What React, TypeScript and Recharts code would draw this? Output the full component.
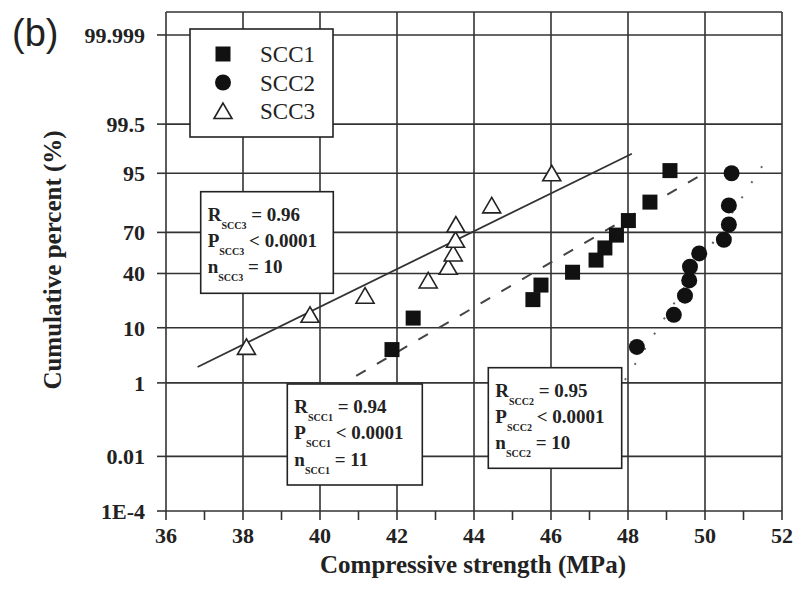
import React from 'react';
import { ScatterChart, Scatter, XAxis, YAxis, ReferenceLine } from 'recharts';

// compressive strength (MPa) and cumulative percent (%)
const scc1Strength = [41.87, 42.42, 45.53, 45.74, 46.56, 47.17, 47.4, 47.7, 48.01, 48.57, 49.09];
const scc1Percent = [4.5, 13.6, 22.7, 31.8, 40.9, 50, 59.1, 68.2, 77.3, 86.4, 95.5];
const scc2Strength = [48.23, 49.19, 49.48, 49.59, 49.61, 49.85, 50.49, 50.62, 50.62, 50.69];
const scc2Percent = [5, 15, 25, 35, 45, 55, 65, 75, 85, 95];
const scc3Strength = [38.09, 39.74, 41.17, 42.81, 43.33, 43.46, 43.52, 43.53, 44.46, 46.02];
const scc3Percent = [5, 15, 25, 35, 45, 55, 65, 75, 85, 95];

// fitted lines (end points)
const fit1Strength = [40.94, 50.0];
const fit1Percent = [1.41, 95.1];
const fit2Strength = [47.92, 51.6];
const fit2Percent = [1.16, 97.2];
const fit3Strength = [36.82, 48.1];
const fit3Percent = [2.14, 97.8];

const xTicks = [36, 37, 38, 39, 40, 41, 42, 43, 44, 45, 46, 47, 48, 49, 50, 51, 52];
const xGrid = [38, 40, 42, 44, 46, 48, 50, 52];
const yTickPercents = [0.0001, 0.01, 1, 10, 40, 70, 95, 99.5, 99.999];
const yTickLabels = ['1E-4', '0.01', '1', '10', '40', '70', '95', '99.5', '99.999'];

// inverse standard normal CDF (Acklam) -> probability paper scale
const probit = (p: number) => {
  const a = [-39.69683028665376, 220.9460984245205, -275.9285104469687, 138.357751867269, -30.66479806614716, 2.506628277459239];
  const b = [-54.47609879822406, 161.5858368580409, -155.6989798598866, 66.80131188771972, -13.28068155288572];
  const c = [-0.007784894002430293, -0.3223964580411365, -2.400758277161838, -2.549671348283429, 4.374664141464968, 2.938163982698783];
  const d = [0.007784695709041462, 0.3224671290700398, 2.445134137142996, 3.754408661907416];
  const plow = 0.02425;
  if (p < plow) {
    const q = Math.sqrt(-2 * Math.log(p));
    return (((((c[0] * q + c[1]) * q + c[2]) * q + c[3]) * q + c[4]) * q + c[5]) / ((((d[0] * q + d[1]) * q + d[2]) * q + d[3]) * q + 1);
  }
  if (p > 1 - plow) {
    const q = Math.sqrt(-2 * Math.log(1 - p));
    return -(((((c[0] * q + c[1]) * q + c[2]) * q + c[3]) * q + c[4]) * q + c[5]) / ((((d[0] * q + d[1]) * q + d[2]) * q + d[3]) * q + 1);
  }
  const q = p - 0.5;
  const r = q * q;
  return ((((((a[0] * r + a[1]) * r + a[2]) * r + a[3]) * r + a[4]) * r + a[5]) * q) / (((((b[0] * r + b[1]) * r + b[2]) * r + b[3]) * r + b[4]) * r + 1);
};

const toPoints = (xs: number[], ps: number[]) => xs.map((x, i) => ({ x, z: probit(ps[i] / 100) }));

const scc1 = toPoints(scc1Strength, scc1Percent);
const scc2 = toPoints(scc2Strength, scc2Percent);
const scc3 = toPoints(scc3Strength, scc3Percent);
const fit1 = toPoints(fit1Strength, fit1Percent);
const fit2 = toPoints(fit2Strength, fit2Percent);
const fit3 = toPoints(fit3Strength, fit3Percent);

const yTicks = yTickPercents.map((p) => probit(p / 100));
const yTop = 4.7;

const ink = '#222';
const gridColor = '#333';
const serif = '"Liberation Serif", "Times New Roman", serif';

const Square = (props: any) => (
  <rect x={props.cx - 7.5} y={props.cy - 7.5} width={15} height={15} fill="#111" />
);
const Dot = (props: any) => <circle cx={props.cx} cy={props.cy} r={8} fill="#111" />;
const Triangle = (props: any) => {
  const { cx, cy } = props;
  return (
    <polygon
      points={`${cx},${cy - 8} ${cx - 9},${cy + 7.5} ${cx + 9},${cy + 7.5}`}
      fill="#fff"
      stroke={ink}
      strokeWidth={1.6}
    />
  );
};
const NoMark = () => <g />;

const yLabel = (v: number) => {
  const i = yTicks.findIndex((t) => Math.abs(t - v) < 1e-6);
  return i >= 0 ? yTickLabels[i] : '';
};

const StatBox = ({ x, y, w, h, sub, r, n }: any) => {
  const rows = [
    { sym: 'R', rest: ` = ${r}` },
    { sym: 'P', rest: ' < 0.0001' },
    { sym: 'n', rest: ` = ${n}` },
  ];
  return (
    <g>
      <rect x={x} y={y} width={w} height={h} fill="#fff" stroke={ink} strokeWidth={1.6} />
      {rows.map((row, i) => (
        <text key={row.sym} x={x + 7} y={y + 29 + i * 26.3} fontFamily={serif} fontWeight="bold" fontSize={19} fill={ink}>
          {row.sym}
          <tspan fontSize={10} dy={8}>{sub}</tspan>
          <tspan dy={-8}>{row.rest}</tspan>
        </text>
      ))}
    </g>
  );
};

const legendItems = [
  { name: 'SCC1', Mark: Square },
  { name: 'SCC2', Mark: Dot },
  { name: 'SCC3', Mark: Triangle },
];

export default function App() {
  return (
    <div style={{ position: 'absolute', left: 0, top: 0, width: 795, height: 593, background: '#fff' }}>
      <ScatterChart width={795} height={593} margin={{ top: 12, right: 13, bottom: 32, left: 66 }}>
        <XAxis
          type="number"
          dataKey="x"
          domain={[36, 52]}
          ticks={xTicks}
          interval={0}
          tickFormatter={(v: number) => (v % 2 === 0 ? String(v) : '')}
          tickSize={9}
          tickMargin={7}
          height={50}
          axisLine={{ stroke: gridColor, strokeWidth: 1.6 }}
          tickLine={{ stroke: gridColor, strokeWidth: 1.6 }}
          tick={{ fontFamily: serif, fontWeight: 'bold', fontSize: 22, fill: ink }}
        />
        <YAxis
          type="number"
          dataKey="z"
          domain={[yTicks[0], yTop]}
          ticks={yTicks}
          interval={0}
          tickFormatter={yLabel}
          tickSize={9}
          tickMargin={12}
          width={100}
          axisLine={{ stroke: gridColor, strokeWidth: 1.6 }}
          tickLine={{ stroke: gridColor, strokeWidth: 1.6 }}
          tick={{ fontFamily: serif, fontWeight: 'bold', fontSize: 22, fill: ink }}
        />
        {xGrid.map((v) => (
          <ReferenceLine key={`x${v}`} x={v} stroke={gridColor} strokeWidth={1.6} />
        ))}
        {yTicks.slice(1).map((v, i) => (
          <ReferenceLine key={`y${i}`} y={v} stroke={gridColor} strokeWidth={1.6} />
        ))}
        <ReferenceLine y={yTop} stroke={gridColor} strokeWidth={1.6} />
        <Scatter data={fit3} line={{ stroke: '#333', strokeWidth: 1.8 }} shape={NoMark} isAnimationActive={false} />
        <Scatter data={fit1} line={{ stroke: '#444', strokeWidth: 2, strokeDasharray: '11 13' }} shape={NoMark} isAnimationActive={false} />
        <Scatter data={fit2} line={{ stroke: '#666', strokeWidth: 2, strokeDasharray: '2 16' }} shape={NoMark} isAnimationActive={false} />
        <Scatter name="SCC1" data={scc1} shape={Square} isAnimationActive={false} />
        <Scatter name="SCC2" data={scc2} shape={Dot} isAnimationActive={false} />
        <Scatter name="SCC3" data={scc3} shape={Triangle} isAnimationActive={false} />
      </ScatterChart>

      <svg width={795} height={593} style={{ position: 'absolute', left: 0, top: 0, pointerEvents: 'none' }}>
        <text x={12} y={46} fontFamily='"Liberation Sans", Arial, sans-serif' fontSize={38} fill={ink}>(b)</text>

        <g>
          <rect x={190} y={29} width={143} height={108} fill="#fff" stroke={ink} strokeWidth={1.6} />
          {legendItems.map(({ name, Mark }, i) => (
            <g key={name}>
              <Mark cx={223} cy={54 + i * 28.5} />
              <text x={260} y={62 + i * 28.5} fontFamily={serif} fontSize={23} fill={ink}>{name}</text>
            </g>
          ))}
        </g>

        <StatBox x={200.7} y={191.7} w={132.6} h={101.6} sub="SCC3" r="0.96" n="10" />
        <StatBox x={287.3} y={384} w={135} h={101} sub="SCC1" r="0.94" n="11" />
        <StatBox x={488.3} y={367.7} w={133.4} h={100.6} sub="SCC2" r="0.95" n="10" />

        <text x={473} y={573} textAnchor="middle" fontFamily={serif} fontWeight="bold" fontSize={25} fill={ink}>
          Compressive strength (MPa)
        </text>
        <text
          x={61}
          y={260}
          transform="rotate(-90 61 260)"
          textAnchor="middle"
          fontFamily={serif}
          fontWeight="bold"
          fontSize={25}
          fill={ink}
        >
          Cumulative percent (%)
        </text>
      </svg>
    </div>
  );
}
